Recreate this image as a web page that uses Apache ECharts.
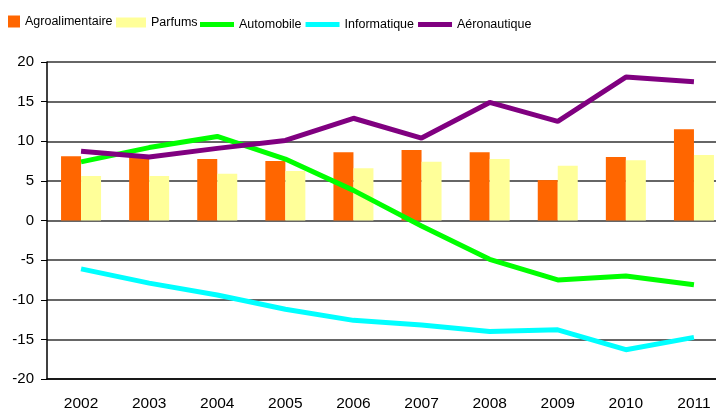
<!DOCTYPE html>
<html lang="fr">
<head>
    <meta charset="UTF-8">
    <title>Secteurs</title>
    <script src="https://cdn.jsdelivr.net/npm/echarts@6/dist/echarts.min.js"></script>
    <style>
        html, body { margin: 0; padding: 0; background: #fff; overflow: hidden; }
        /* la zone de tracé dépasse le bord droit de l'image : conteneur plus large */
        #chart { width: 728px; height: 412px; }
    </style>
</head>
<body>
    <div id="chart"></div>
    <script>
        // données
        const years = ['2002', '2003', '2004', '2005', '2006', '2007', '2008', '2009', '2010', '2011'];
        const agro = [8.1, 8.0, 7.75, 7.5, 8.6, 8.9, 8.6, 5.1, 8.0, 11.5];
        const parfums = [5.6, 5.6, 5.9, 6.25, 6.6, 7.4, 7.75, 6.9, 7.6, 8.25];
        const automobile = [7.4, 9.2, 10.6, 7.75, 3.8, -0.7, -4.9, -7.5, -7.0, -8.1];
        const informatique = [-6.1, -7.9, -9.4, -11.2, -12.6, -13.2, -14.0, -13.8, -16.3, -14.75];
        const aeronautique = [8.75, 8.0, 9.1, 10.1, 12.9, 10.4, 14.9, 12.5, 18.1, 17.5];

        const font = 'Liberation Sans, Arial, sans-serif';
        const legendText = { fontFamily: font, fontSize: 12.5, color: '#000' };

        function lineSerie(name, data, color) {
            return {
                name: name,
                type: 'line',
                data: data,
                symbol: 'none',
                color: color,
                lineStyle: { color: color, width: 5 }
            };
        }

        const option = {
            animation: false,
            backgroundColor: '#fff',
            legend: [
                {
                    data: [{ name: 'Agroalimentaire', icon: 'rect' }],
                    left: 8, top: 15,
                    itemWidth: 12, itemHeight: 12, itemGap: 5,
                    textStyle: legendText, padding: 0
                },
                {
                    data: [{ name: 'Parfums', icon: 'rect' }],
                    left: 116, top: 16,
                    itemWidth: 30, itemHeight: 10,
                    textStyle: legendText, padding: 0
                },
                {
                    data: [
                        { name: 'Automobile', icon: 'rect' },
                        { name: 'Informatique', icon: 'rect' },
                        { name: 'Aéronautique', icon: 'rect' }
                    ],
                    left: 200, top: 18,
                    itemWidth: 34, itemHeight: 5, itemGap: 4,
                    textStyle: legendText, padding: 0
                }
            ],
            grid: { left: 47, right: 0, top: 62, bottom: 29, containLabel: false },
            xAxis: {
                type: 'category',
                data: years,
                axisLine: { onZero: false, lineStyle: { color: '#000', width: 1.5 } },
                axisTick: { show: false },
                axisLabel: { fontFamily: font, fontSize: 15.5, color: '#000', margin: 17 }
            },
            yAxis: {
                type: 'value',
                min: -20, max: 20, interval: 5,
                axisLine: { show: true, lineStyle: { color: '#000', width: 1.5 } },
                axisTick: { show: true, length: 6, lineStyle: { color: '#000' } },
                axisLabel: { fontFamily: font, fontSize: 15, color: '#000', margin: 13 },
                splitLine: { lineStyle: { color: '#333', width: 1.5 } }
            },
            series: [
                {
                    name: 'Agroalimentaire', type: 'bar', data: agro,
                    color: '#FF6600', barWidth: 20, barGap: '0%'
                },
                {
                    name: 'Parfums', type: 'bar', data: parfums,
                    color: '#FFFF99', barWidth: 20, barGap: '0%'
                },
                lineSerie('Automobile', automobile, '#00FF00'),
                lineSerie('Informatique', informatique, '#00FFFF'),
                lineSerie('Aéronautique', aeronautique, '#800080')
            ]
        };

        const chart = echarts.init(document.getElementById('chart'));
        chart.setOption(option);
    </script>
</body>
</html>
